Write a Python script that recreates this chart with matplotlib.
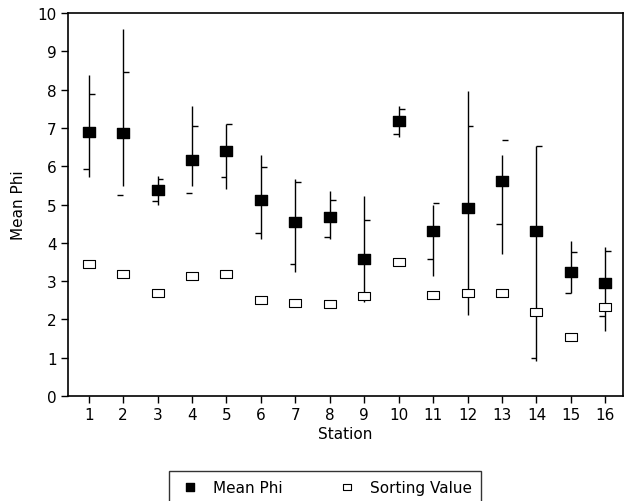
import numpy as np
import matplotlib
matplotlib.use("Agg")
import matplotlib.pyplot as plt
from matplotlib.path import Path

plt.rcParams["font.family"] = ["DejaVu Sans"]

stations = list(range(1, 17))
mean_phi = [6.89, 6.87, 5.38, 6.16, 6.40, 5.12, 4.54, 4.67, 3.58, 7.17, 4.30, 4.91, 5.61, 4.31, 3.24, 2.95]
range_hi = [8.38, 9.58, 5.75, 7.57, 7.10, 6.29, 5.67, 5.36, 5.22, 7.57, 5.00, 7.96, 6.29, 6.53, 4.05, 3.89]
range_lo = [5.72, 5.48, 4.99, 5.48, 5.40, 4.10, 3.24, 4.10, 2.46, 6.76, 3.13, 2.11, 3.71, 0.91, 2.69, 1.70]
sd_hi = [7.88, 8.47, 5.67, 7.05, 7.10, 5.98, 5.59, 5.12, 4.60, 7.49, 5.03, 7.05, 6.68, 6.53, 3.76, 3.79]
sd_lo = [5.93, 5.25, 5.10, 5.30, 5.72, 4.26, 3.45, 4.15, 2.58, 6.84, 3.58, 2.75, 4.50, 1.00, 2.69, 2.09]
sorting = [3.45, 3.19, 2.69, 3.13, 3.19, 2.51, 2.43, 2.40, 2.61, 3.49, 2.64, 2.69, 2.69, 2.19, 1.54, 2.32]


def rect_marker(h):
    return Path([(-0.5, -h / 2), (0.5, -h / 2), (0.5, h / 2), (-0.5, h / 2), (-0.5, -h / 2)],
                [Path.MOVETO, Path.LINETO, Path.LINETO, Path.LINETO, Path.CLOSEPOLY])


fig = plt.figure(figsize=(6.27, 5.02), dpi=100)
ax = fig.add_axes([0.108, 0.209, 0.886, 0.763])

x = np.array(stations)
ax.vlines(x, range_lo, range_hi, color="black", lw=1)
tick_w = 0.17
ax.hlines(sd_hi, x, x + tick_w, color="black", lw=1)
ax.hlines(sd_lo, x - tick_w, x, color="black", lw=1)

ax.plot(x, mean_phi, linestyle="none", marker=rect_marker(0.82), markersize=8.2,
        color="black", label="Mean Phi")
ax.plot(x, sorting, linestyle="none", marker=rect_marker(0.72), markersize=8,
        markerfacecolor="white", markeredgecolor="black", markeredgewidth=0.8,
        label="Sorting Value")

ax.set_xlim(0.39, 16.52)
ax.set_ylim(0, 10)
ax.set_xticks(stations)
ax.set_yticks(range(0, 11))
ax.tick_params(direction="out", length=5, width=1, labelsize=11, colors="black", pad=3)
for s in ax.spines.values():
    s.set_linewidth(1.2)
ax.set_xlabel("Station", fontsize=11, labelpad=3)
ax.set_ylabel("Mean Phi", fontsize=11, labelpad=8)

leg = fig.legend(loc="upper center", bbox_to_anchor=(0.518, 1 - 472 / 502), ncol=2,
                 fontsize=11, frameon=True, fancybox=False, edgecolor="black",
                 columnspacing=3.4, handletextpad=0.7, borderpad=0.6, borderaxespad=0,
                 markerscale=0.75, handlelength=1.6)
leg.get_frame().set_linewidth(1)

fig.savefig("out.png", dpi=100)
